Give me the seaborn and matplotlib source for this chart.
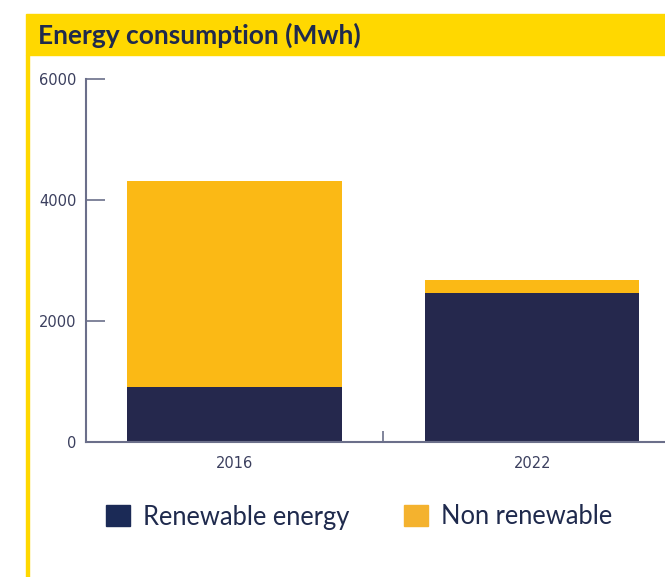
import matplotlib
matplotlib.use("Agg")
import matplotlib.pyplot as plt
import matplotlib.patches as mpatches
import seaborn as sns

# data
years = ["2016", "2022"]
renewable = [900, 2460]
non_renewable = [3420, 210]

NAVY = "#25284d"
ORANGE = "#fbb915"
YELLOW = "#ffd800"
TEXT = "#1f2a4d"
TICK = "#3b3f5e"
AXIS = "#6b6f8a"

sns.set_theme(style="white")
# tick labels in DejaVu (wide digits), title and legend in Lato
plt.rcParams["font.family"] = ["DejaVu Sans"]

fig = plt.figure(figsize=(6.65, 5.77), dpi=100)

# yellow header band and left border
fig.patches.append(mpatches.Rectangle((26 / 665, 1 - 55 / 577), 1, 41 / 577,
                                      transform=fig.transFigure, color=YELLOW, zorder=0))
fig.patches.append(mpatches.Rectangle((26 / 665, 0), 2.5 / 665, 1 - 55 / 577,
                                      transform=fig.transFigure, color=YELLOW, zorder=0))
fig.text(38 / 665, 1 - 35.5 / 577, "Energy consumption (Mwh)", fontsize=19,
         fontweight="bold", color=TEXT, va="center", ha="left", family=["Lato", "DejaVu Sans"])

ax = fig.add_axes([85.7 / 665, 1 - 441.7 / 577, (681 - 85.7) / 665, (441.7 - 79) / 577])
sns.barplot(x=years, y=renewable, color=NAVY, width=0.72, saturation=1,
            linewidth=0, ax=ax)
sns.barplot(x=years, y=non_renewable, bottom=renewable, color=ORANGE, width=0.72,
            saturation=1, linewidth=0, ax=ax)

ax.set_xlim(-0.5, 1.5)
ax.set_ylim(0, 6000)
ax.set_yticks([0, 2000, 4000, 6000])
ax.set_xticks([0, 1], years)
ax.set_xticks([0.5], minor=True)
ax.tick_params(axis="y", direction="in", length=14, width=1.2, color=AXIS,
               labelsize=10.5, labelcolor=TICK, left=True, pad=6.5)
ax.tick_params(axis="x", which="major", length=0, labelsize=10.5, labelcolor=TICK, pad=10)
ax.tick_params(axis="x", which="minor", direction="in", length=8, width=1.2, color=AXIS,
               bottom=True)
for s in ["top", "right"]:
    ax.spines[s].set_visible(False)
for s in ["left", "bottom"]:
    ax.spines[s].set_color(AXIS)
    ax.spines[s].set_linewidth(1.5)
ax.set_xlabel("")
ax.set_ylabel("")

handles = [mpatches.Patch(color="#1b2a56", label="Renewable energy"),
           mpatches.Patch(color="#f4b22e", label="Non renewable")]
fig.legend(handles=handles, loc="center left", bbox_to_anchor=(106 / 665, 1 - 517 / 577),
           ncol=2, frameon=False, prop={"family": ["Lato", "DejaVu Sans"], "size": 18.4},
           labelcolor=TEXT, handlelength=0.94, handleheight=0.86, handletextpad=0.5,
           columnspacing=2.15, borderpad=0, borderaxespad=0)

fig.savefig("out.png", dpi=100)
